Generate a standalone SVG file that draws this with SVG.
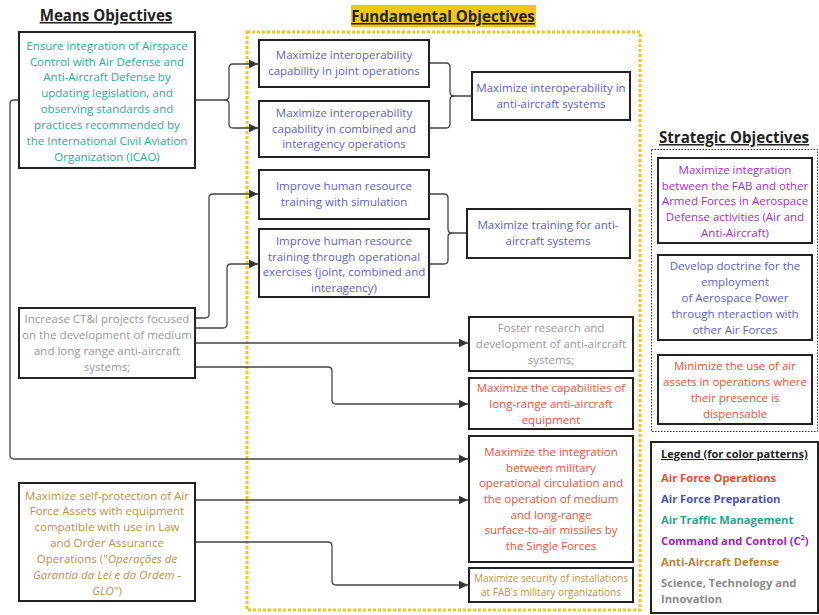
<svg xmlns="http://www.w3.org/2000/svg" width="819" height="615" viewBox="0 0 819 615">
<style>
text{font-family:"Open Sans","Noto Sans","Liberation Sans",sans-serif;font-size:11.5px;text-anchor:middle}
.title{font-size:15.1px;font-weight:bold;fill:#222;text-decoration:underline}
.box{fill:#fff;stroke:#222;stroke-width:2}
.con{fill:none;stroke:#444;stroke-width:1.3}
.teal{fill:#26b08f}.blue{fill:#5a62c8}.red{fill:#f0513a}.purple{fill:#a92fc4}.gold{fill:#c0913f}.gray{fill:#999}
.leg{text-anchor:start;font-weight:bold;font-size:11.2px}
</style>
<defs>
<marker id="arr" markerWidth="10" markerHeight="10" refX="9" refY="5" orient="auto" markerUnits="userSpaceOnUse">
<path d="M0,0.8 L9,5 L0,9.2 Z" fill="#333"/>
</marker>
</defs>
<rect width="819" height="615" fill="#fff"/>

<!-- titles -->
<text class="title" x="106" y="21">Means Objectives</text>
<rect x="351" y="5" width="185" height="22" fill="#f5c518"/>
<text class="title" x="443" y="22">Fundamental Objectives</text>
<text class="title" x="734" y="143">Strategic Objectives</text>

<!-- containers -->
<rect x="247" y="32" width="393" height="578" fill="none" stroke="#f5c518" stroke-width="3" stroke-dasharray="3 2"/>
<rect x="651.5" y="149.5" width="166" height="282" fill="none" stroke="#333" stroke-width="1" stroke-dasharray="1.5 1.5"/>

<!-- connectors -->
<g id="connectors">
<path class="con" d="M19,100 H14 Q10,100 10,104 V455 Q10,459 14,459 H468" marker-end="url(#arr)"/>
<path class="con" d="M195,100 H225 Q229,100 229,96 V68 Q229,64 233,64 H258" marker-end="url(#arr)"/>
<path class="con" d="M225,100 Q229,100 229,104 V124 Q229,128 233,128 H258" marker-end="url(#arr)"/>
<path class="con" d="M429,63 H446 Q450,63 450,67 V92 Q450,96 454,96 H472"/>
<path class="con" d="M429,128 H446 Q450,128 450,124 V100 Q450,96 454,96"/>
<path class="con" d="M429,194 H444 Q448,194 448,198 V229 Q448,233 452,233 H467"/>
<path class="con" d="M429,264 H444 Q448,264 448,260 V237 Q448,233 452,233"/>
<path class="con" d="M195,318 H205 Q209,318 209,314 V198 Q209,194 213,194 H258" marker-end="url(#arr)"/>
<path class="con" d="M195,328 H223 Q227,328 227,324 V268 Q227,264 231,264 H258" marker-end="url(#arr)"/>
<path class="con" d="M195,343 H468" marker-end="url(#arr)"/>
<path class="con" d="M195,367 H328 Q332,367 332,371 V400 Q332,404 336,404 H468" marker-end="url(#arr)"/>
<path class="con" d="M195,500 H468" marker-end="url(#arr)"/>
<path class="con" d="M195,542 H328 Q332,542 332,546 V581 Q332,585 336,585 H468" marker-end="url(#arr)"/>
</g>

<!-- means objectives -->
<g id="m1">
<rect class="box" x="19" y="32" width="176" height="136"/>
<text class="teal"><tspan x="107" y="50">Ensure integration of Airspace</tspan><tspan x="107" y="66">Control with Air Defense and</tspan><tspan x="107" y="81">Anti-Aircraft Defense by</tspan><tspan x="107" y="97">updating legislation, and</tspan><tspan x="107" y="113">observing standards and</tspan><tspan x="107" y="129">practices recommended by</tspan><tspan x="107" y="145">the International Civil Aviation</tspan><tspan x="107" y="161">Organization (ICAO)</tspan></text>
</g>
<g id="m2">
<rect class="box" x="19" y="308" width="176" height="70"/>
<text class="gray"><tspan x="107" y="323">Increase CT&amp;I projects focused</tspan><tspan x="107" y="339">on the development of medium</tspan><tspan x="107" y="355">and long range anti-aircraft</tspan><tspan x="107" y="371">systems;</tspan></text>
</g>
<g id="m3">
<rect class="box" x="19" y="483" width="176" height="118"/>
<text class="gold"><tspan x="107" y="500">Maximize self-protection of Air</tspan><tspan x="107" y="515">Force Assets with equipment</tspan><tspan x="107" y="531">compatible with use in Law</tspan><tspan x="107" y="547">and Order Assurance</tspan><tspan x="107" y="563">Operations ("<tspan font-style="italic">Operações de</tspan></tspan><tspan x="107" y="579" font-style="italic">Garantia da Lei e da Ordem -</tspan><tspan x="107" y="595"><tspan font-style="italic">GLO</tspan>")</tspan></text>
</g>

<!-- fundamental objectives -->
<g id="f1">
<rect class="box" x="259" y="40" width="170" height="47"/>
<text class="blue"><tspan x="344" y="59">Maximize interoperability</tspan><tspan x="344" y="75">capability in joint operations</tspan></text>
</g>
<g id="f2">
<rect class="box" x="259" y="101" width="170" height="56"/>
<text class="blue"><tspan x="344" y="117">Maximize interoperability</tspan><tspan x="344" y="133">capability in combined and</tspan><tspan x="344" y="148">interagency operations</tspan></text>
</g>
<g id="f3">
<rect class="box" x="472" y="72" width="158" height="48"/>
<text class="blue"><tspan x="551" y="92">Maximize interoperability in</tspan><tspan x="551" y="108">anti-aircraft systems</tspan></text>
</g>
<g id="f4">
<rect class="box" x="259" y="170" width="170" height="49"/>
<text class="blue"><tspan x="344" y="190">Improve human resource</tspan><tspan x="344" y="206">training with simulation</tspan></text>
</g>
<g id="f5">
<rect class="box" x="259" y="229" width="170" height="68"/>
<text class="blue"><tspan x="344" y="245">Improve human resource</tspan><tspan x="344" y="261">training through operational</tspan><tspan x="344" y="276">exercises (joint, combined and</tspan><tspan x="344" y="292">interagency)</tspan></text>
</g>
<g id="f6">
<rect class="box" x="467" y="209" width="163" height="49"/>
<text class="blue"><tspan x="548" y="229">Maximize training for anti-</tspan><tspan x="548" y="245">aircraft systems</tspan></text>
</g>
<g id="f7">
<rect class="box" x="469" y="317" width="164" height="54"/>
<text class="gray"><tspan x="551" y="332">Foster research and</tspan><tspan x="551" y="348">development of anti-aircraft</tspan><tspan x="551" y="364">systems;</tspan></text>
</g>
<g id="f8">
<rect class="box" x="469" y="378" width="164" height="51"/>
<text class="red"><tspan x="551" y="392">Maximize the capabilities of</tspan><tspan x="551" y="408">long-range anti-aircraft</tspan><tspan x="551" y="424">equipment</tspan></text>
</g>
<g id="f9">
<rect class="box" x="469" y="436" width="164" height="126"/>
<text class="red"><tspan x="551" y="456">Maximize the integration</tspan><tspan x="551" y="472">between military</tspan><tspan x="551" y="487">operational circulation and</tspan><tspan x="551" y="503">the operation of medium</tspan><tspan x="551" y="519">and long-range</tspan><tspan x="551" y="534">surface-to-air missiles by</tspan><tspan x="551" y="550">the Single Forces</tspan></text>
</g>
<g id="f10">
<rect class="box" x="469" y="568" width="164" height="34"/>
<text class="gold" style="font-size:10px"><tspan x="551" y="582">Maximize security of installations</tspan><tspan x="551" y="596">at FAB's military organizations</tspan></text>
</g>

<!-- strategic objectives -->
<g id="s1">
<rect class="box" x="658" y="158" width="154" height="85"/>
<text class="purple"><tspan x="735" y="174">Maximize integration</tspan><tspan x="735" y="190">between the FAB and other</tspan><tspan x="735" y="205">Armed Forces in Aerospace</tspan><tspan x="735" y="221">Defense activities (Air and</tspan><tspan x="735" y="237">Anti-Aircraft)</tspan></text>
</g>
<g id="s2">
<rect class="box" x="658" y="255" width="154" height="85"/>
<text class="blue"><tspan x="735" y="270">Develop doctrine for the</tspan><tspan x="735" y="286">employment</tspan><tspan x="735" y="302">of Aerospace Power</tspan><tspan x="735" y="318">through nteraction with</tspan><tspan x="735" y="334">other Air Forces</tspan></text>
</g>
<g id="s3">
<rect class="box" x="658" y="355" width="154" height="69"/>
<text class="red"><tspan x="735" y="370">Minimize the use of air</tspan><tspan x="735" y="386">assets in operations where</tspan><tspan x="735" y="402">their presence is</tspan><tspan x="735" y="418">dispensable</tspan></text>
</g>

<!-- legend -->
<g id="legend">
<rect class="box" x="651" y="442" width="167" height="171"/>
<text class="leg" x="661" y="458" style="fill:#222;text-decoration:underline;font-size:11px">Legend (for color patterns)</text>
<text class="leg" x="661" y="482" style="fill:#f04a2e">Air Force Operations</text>
<text class="leg" x="661" y="503" style="fill:#4a52c0">Air Force Preparation</text>
<text class="leg" x="661" y="524" style="fill:#1ea888">Air Traffic Management</text>
<text class="leg" x="661" y="545" style="fill:#9b1fbe">Command and Control (C<tspan font-size="7" dy="-5">2</tspan><tspan dy="5">)</tspan></text>
<text class="leg" x="661" y="566" style="fill:#b8862e">Anti-Aircraft Defense</text>
<text class="leg" style="fill:#8a8a8a"><tspan x="661" y="587">Science, Technology and</tspan><tspan x="661" y="603">Innovation</tspan></text>
</g>
</svg>
